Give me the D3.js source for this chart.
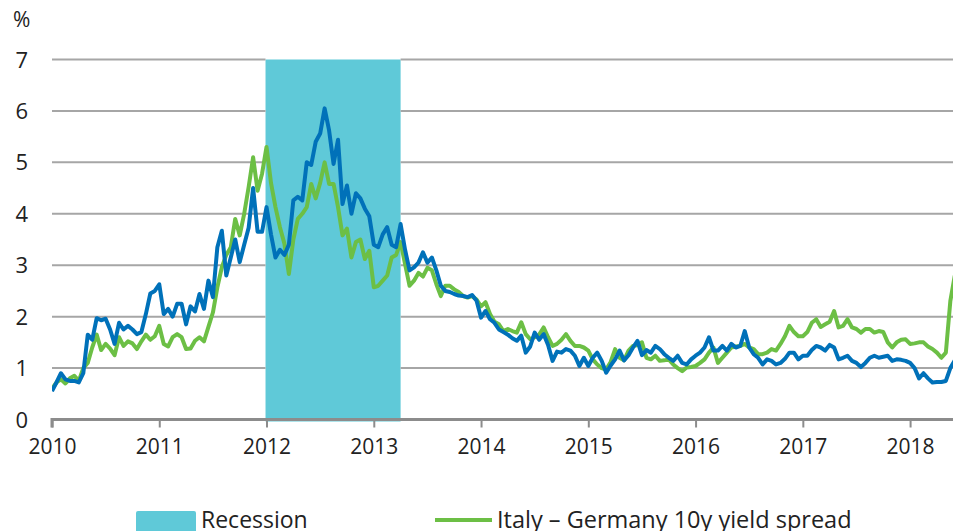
<!DOCTYPE html>
<html>
<head>
<meta charset="utf-8">
<script src="https://cdn.jsdelivr.net/npm/d3@7"></script>
<style>
  html, body { margin: 0; padding: 0; background: #fff; overflow: hidden; }
  svg { display: block; font-family: "Open Sans", sans-serif; }
</style>
</head>
<body>
<div id="chart"></div>
<script>
// half-monthly observations, Jan 2010 -> Jun 2018
const startYear = 2010;
const stepsPerYear = 24;

const yearTicks = [2010, 2011, 2012, 2013, 2014, 2015, 2016, 2017, 2018];
const valueTicks = [0, 1, 2, 3, 4, 5, 6, 7];
const recession = [2012.0, 2013.25];

// Italy - Germany 10y yield spread (green)
const spread10y = [
  // 2010
  0.6, 0.72, 0.78, 0.7, 0.8, 0.85, 0.75, 1.0, 1.1, 1.4, 1.65, 1.35,
  1.47, 1.38, 1.25, 1.6, 1.43, 1.52, 1.48, 1.37, 1.52, 1.65, 1.55, 1.62,
  // 2011
  1.82, 1.47, 1.42, 1.6, 1.66, 1.6, 1.37, 1.38, 1.53, 1.6, 1.52, 1.8,
  2.08, 2.57, 2.96, 3.2, 3.35, 3.9, 3.58, 4.0, 4.52, 5.1, 4.45, 4.78,
  // 2012
  5.3, 4.6, 4.13, 3.74, 3.42, 2.83, 3.5, 3.9, 4.0, 4.13, 4.58, 4.3,
  4.6, 5.0, 4.58, 4.58, 4.13, 3.58, 3.71, 3.15, 3.45, 3.5, 3.12, 3.28,
  // 2013
  2.57, 2.6, 2.7, 2.8, 3.15, 3.2, 3.45, 3.02, 2.6, 2.7, 2.85, 2.78,
  2.95, 2.9, 2.63, 2.4, 2.6, 2.6, 2.53, 2.48, 2.4, 2.37, 2.4, 2.33,
  // 2014
  2.2, 2.28, 2.05, 1.9, 1.85, 1.72, 1.76, 1.72, 1.69, 1.89, 1.66, 1.56,
  1.6, 1.65, 1.79, 1.6, 1.43, 1.47, 1.55, 1.66, 1.53, 1.43, 1.43, 1.4,
  // 2015
  1.34, 1.17, 1.07, 1.0, 0.97, 1.12, 1.37, 1.2, 1.15, 1.34, 1.43, 1.45,
  1.5, 1.2, 1.17, 1.24, 1.14, 1.15, 1.17, 1.07, 1.0, 0.94, 1.01, 1.02,
  // 2016
  1.04, 1.1, 1.17, 1.3, 1.4, 1.1, 1.2, 1.3, 1.4, 1.42, 1.43, 1.47,
  1.4, 1.37, 1.27, 1.27, 1.3, 1.37, 1.34, 1.47, 1.62, 1.82, 1.7, 1.62,
  // 2017
  1.62, 1.7, 1.88, 1.95, 1.8, 1.85, 1.9, 2.11, 1.79, 1.82, 1.95, 1.79,
  1.76, 1.69, 1.76, 1.76, 1.69, 1.72, 1.7, 1.5, 1.4, 1.5, 1.55, 1.56,
  // 2018
  1.47, 1.48, 1.5, 1.5, 1.42, 1.37, 1.3, 1.2, 1.3, 2.3, 2.8
];

// second spread series (blue)
const spreadBlue = [
  // 2010
  0.55, 0.72, 0.9, 0.78, 0.75, 0.75, 0.72, 0.9, 1.65, 1.55, 1.97, 1.93,
  1.96, 1.75, 1.47, 1.88, 1.75, 1.82, 1.75, 1.66, 1.7, 2.05, 2.45, 2.5,
  // 2011
  2.63, 2.05, 2.15, 2.0, 2.25, 2.25, 1.85, 2.2, 2.1, 2.44, 2.15, 2.7,
  2.38, 3.35, 3.67, 2.8, 3.15, 3.5, 3.06, 3.4, 3.73, 4.5, 3.65, 3.65,
  // 2012
  4.13, 3.6, 3.15, 3.3, 3.2, 3.4, 4.26, 4.33, 4.26, 5.0, 4.95, 5.4,
  5.56, 6.05, 5.62, 4.97, 5.44, 4.19, 4.55, 4.0, 4.4, 4.3, 4.1, 3.95,
  // 2013
  3.4, 3.35, 3.6, 3.74, 3.4, 3.35, 3.8, 3.3, 2.9, 2.96, 3.05, 3.25,
  3.05, 3.15, 2.9, 2.6, 2.5, 2.48, 2.44, 2.41, 2.4, 2.38, 2.42, 2.31,
  // 2014
  1.98, 2.11, 1.95, 1.88, 1.75, 1.7, 1.65, 1.58, 1.53, 1.63, 1.3, 1.42,
  1.69, 1.55, 1.66, 1.45, 1.14, 1.32, 1.3, 1.37, 1.34, 1.24, 1.04, 1.2,
  // 2015
  1.04, 1.2, 1.3, 1.14, 0.91, 1.05, 1.17, 1.34, 1.15, 1.25, 1.4, 1.53,
  1.25, 1.35, 1.3, 1.43, 1.37, 1.27, 1.2, 1.14, 1.24, 1.1, 1.07, 1.17,
  // 2016
  1.24, 1.3, 1.4, 1.6, 1.34, 1.34, 1.43, 1.34, 1.47, 1.4, 1.43, 1.72,
  1.4, 1.27, 1.2, 1.07, 1.17, 1.14, 1.07, 1.1, 1.18, 1.3, 1.3, 1.17,
  // 2017
  1.24, 1.24, 1.35, 1.43, 1.4, 1.34, 1.45, 1.4, 1.17, 1.2, 1.24, 1.14,
  1.1, 1.02, 1.1, 1.2, 1.24, 1.2, 1.22, 1.24, 1.14, 1.17, 1.16, 1.14,
  // 2018
  1.1, 1.0, 0.8, 0.9, 0.8, 0.72, 0.73, 0.73, 0.75, 1.0, 1.15
];

const dates = spread10y.map((d, i) => startYear + i / stepsPerYear);

const width = 953, height = 531;
const margin = { top: 59, right: 0, bottom: 112, left: 52 };

const svg = d3.select("#chart").append("svg")
  .attr("width", width).attr("height", height);

const xScale = d3.scaleLinear().domain([2010, 2018.4]).range([margin.left, width - margin.right]);
const yScale = d3.scaleLinear().domain([0, 7]).range([height - margin.bottom + 0.5, margin.top + 0.5]);

svg.append("defs").append("clipPath").attr("id", "plotClip")
  .append("rect").attr("x", margin.left).attr("y", 0)
  .attr("width", width - margin.left).attr("height", height);

// recession band
svg.append("rect")
  .attr("x", xScale(recession[0]) - 1)
  .attr("y", yScale(7))
  .attr("width", xScale(recession[1]) - xScale(recession[0]) + 1)
  .attr("height", yScale(0) - yScale(7) + 2)
  .attr("fill", "#5fc9d8");

// horizontal gridlines (band covers them)
const grid = svg.append("g");
valueTicks.filter(v => v > 0).forEach(v => {
  [[margin.left, xScale(recession[0]) - 1], [xScale(recession[1]), width]].forEach(seg => {
    grid.append("line")
      .attr("x1", seg[0]).attr("x2", seg[1])
      .attr("y1", yScale(v)).attr("y2", yScale(v))
      .attr("stroke", "#a6a6a6").attr("stroke-width", 2);
  });
});

// y labels
svg.append("g").selectAll("text").data(valueTicks).join("text")
  .attr("x", 28).attr("y", d => yScale(d) + 8)
  .attr("text-anchor", "end")
  .style("font-size", "22px").attr("fill", "#222")
  .text(d => d);

svg.append("text").attr("x", 13).attr("y", 27)
  .style("font-size", "21px").attr("fill", "#222").text("%");

// x axis
const xAxis = svg.append("g")
  .attr("transform", `translate(0,${yScale(0)})`)
  .call(d3.axisBottom(xScale).tickValues(yearTicks).tickFormat(d3.format("d")).tickSize(8).tickPadding(12));
xAxis.select(".domain").attr("stroke", "#8c8c8c").attr("stroke-width", 3)
  .attr("d", `M${margin.left},8V0H${width}`);
xAxis.selectAll(".tick line").attr("stroke", "#8c8c8c").attr("stroke-width", 2);
xAxis.selectAll(".tick text").style("font-size", "21px").style("font-family", "Open Sans").attr("fill", "#222");

// lines
const line = d3.line()
  .x((d, i) => xScale(dates[i]))
  .y(d => yScale(d));

const lines = svg.append("g").attr("clip-path", "url(#plotClip)");
lines.append("path").datum(spread10y).attr("d", line)
  .attr("fill", "none").attr("stroke", "#6cbf45").attr("stroke-width", 4).attr("stroke-linejoin", "round");
lines.append("path").datum(spreadBlue).attr("d", line)
  .attr("fill", "none").attr("stroke", "#0071b9").attr("stroke-width", 4).attr("stroke-linejoin", "round");

// legend (cut at bottom edge, as in the original)
const legend = svg.append("g");
legend.append("rect").attr("x", 136).attr("y", 511).attr("width", 60).attr("height", 22)
  .attr("rx", 2).attr("fill", "#5fc9d8");
legend.append("text").attr("x", 201).attr("y", 528)
  .style("font-size", "23px").attr("fill", "#222").text("Recession");
legend.append("line").attr("x1", 435).attr("x2", 492).attr("y1", 520).attr("y2", 520)
  .attr("stroke", "#6cbf45").attr("stroke-width", 4);
legend.append("text").attr("x", 497).attr("y", 528)
  .style("font-size", "23.5px").attr("fill", "#222").text("Italy – Germany 10y yield spread");
</script>
</body>
</html>
